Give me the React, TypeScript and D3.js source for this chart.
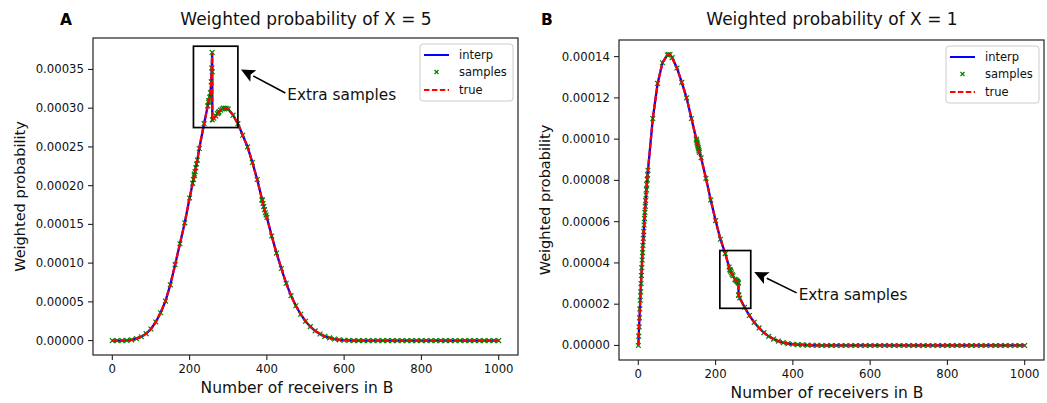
import React from 'react';
import * as d3 from 'd3';

const FONT = "'DejaVu Sans', sans-serif";

// ---------- Panel A: Weighted probability of X = 5 ----------
const xA = [0,12.5,25,37.5,50,62.5,75,87.5,100,112.5,125,137.5,150,162.5,175,187.5,200,212.5,225,237.5,250,262.5,275,287.5,300,312.5,325,337.5,350,362.5,375,387.5,400,412.5,425,437.5,450,462.5,475,487.5,500,512.5,525,537.5,550,562.5,575,587.5,600,612.5,625,637.5,650,662.5,675,687.5,700,712.5,725,737.5,750,762.5,775,787.5,800,812.5,825,837.5,850,862.5,875,887.5,900,912.5,925,937.5,950,962.5,975,987.5,1000];
const yA = [0,0,0,0.02e-5,0.1e-5,0.25e-5,0.5e-5,0.9e-5,1.5e-5,2.4e-5,3.6e-5,5.1e-5,7.2e-5,9.8e-5,12.5e-5,15.2e-5,18.4e-5,21.5e-5,24.8e-5,28.0e-5,31.0e-5,28.7e-5,29.4e-5,30.0e-5,29.9e-5,29.1e-5,28.0e-5,26.5e-5,25.0e-5,23.0e-5,20.8e-5,18.2e-5,15.9e-5,13.5e-5,11.3e-5,9.3e-5,7.4e-5,5.8e-5,4.5e-5,3.4e-5,2.5e-5,1.8e-5,1.25e-5,0.85e-5,0.55e-5,0.35e-5,0.2e-5,0.1e-5,0.05e-5,0.02e-5,0,0,0,0,0,0,0,0,0,0,0,0,0,0,0,0,0,0,0,0,0,0,0,0,0,0,0,0,0,0,0];
const xAExtra = [208,210,212,214,216,218,220,247,249,252,254,256,257.5,258.4,258.6,258.8,268,272,276,280,284,292,296,388,390,392,394,396,398];
const yAExtra = [20.3e-5,20.8e-5,21.3e-5,21.8e-5,22.3e-5,22.8e-5,23.3e-5,30.3e-5,30.8e-5,31.4e-5,32.0e-5,33.4e-5,35.2e-5,37.2e-5,34.7e-5,28.5e-5,29.0e-5,29.3e-5,29.55e-5,29.75e-5,29.9e-5,30.0e-5,29.95e-5,18.1e-5,17.7e-5,17.3e-5,16.9e-5,16.5e-5,16.2e-5];
const yTicksA = [0,0.00005,0.0001,0.00015,0.0002,0.00025,0.0003,0.00035];

// ---------- Panel B: Weighted probability of X = 1 ----------
const xB = [0,1,2,3,4,5,6,7,8,9,10,11,12,13,14,15,16,17,18,19,20,21,22,23,24,25,37.5,50,62.5,75,87.5,100,112.5,125,137.5,150,162.5,175,187.5,200,212.5,225,237.5,250,262.5,275,287.5,300,312.5,325,337.5,350,362.5,375,387.5,400,412.5,425,437.5,450,462.5,475,487.5,500,512.5,525,537.5,550,562.5,575,587.5,600,612.5,625,637.5,650,662.5,675,687.5,700,712.5,725,737.5,750,762.5,775,787.5,800,812.5,825,837.5,850,862.5,875,887.5,900,912.5,925,937.5,950,962.5,975,987.5,1000];
const yB = [0,0.45e-5,0.9e-5,1.34e-5,1.77e-5,2.19e-5,2.6e-5,3.0e-5,3.39e-5,3.77e-5,4.14e-5,4.5e-5,4.85e-5,5.19e-5,5.52e-5,5.84e-5,6.15e-5,6.45e-5,6.74e-5,7.02e-5,7.29e-5,7.55e-5,7.8e-5,8.04e-5,8.27e-5,8.49e-5,11.0e-5,12.7e-5,13.7e-5,14.08e-5,13.95e-5,13.45e-5,12.75e-5,12.0e-5,11.0e-5,10.0e-5,9.1e-5,8.1e-5,7.05e-5,6.05e-5,5.15e-5,4.45e-5,3.65e-5,3.2e-5,2.3e-5,1.85e-5,1.45e-5,1.12e-5,0.85e-5,0.62e-5,0.44e-5,0.31e-5,0.21e-5,0.14e-5,0.09e-5,0.06e-5,0.04e-5,0.025e-5,0.015e-5,0.01e-5,0.005e-5,0,0,0,0,0,0,0,0,0,0,0,0,0,0,0,0,0,0,0,0,0,0,0,0,0,0,0,0,0,0,0,0,0,0,0,0,0,0,0,0,0,0,0];
const xBExtra = [78,82,151,152,153,154,155,156,157,158,235,237,239,241,243,245,252,254,255.5,257,258,259,259.5,260];
const yBExtra = [14.1e-5,14.1e-5,9.92e-5,9.84e-5,9.76e-5,9.68e-5,9.6e-5,9.52e-5,9.44e-5,9.36e-5,3.8e-5,3.68e-5,3.6e-5,3.52e-5,3.44e-5,3.38e-5,3.18e-5,3.14e-5,3.12e-5,3.1e-5,3.07e-5,3.02e-5,2.45e-5,2.42e-5];
const yTicksB = [0,0.00002,0.00004,0.00006,0.00008,0.0001,0.00012,0.00014];

const xTicks = [0,200,400,600,800,1000];
const legendLabels = ['interp','samples','true'];

type PanelProps = {
  left: number; right: number; top: number; bottom: number;
  xs: number[]; ys: number[]; xe: number[]; ye: number[];
  yTicks: number[]; title: string; letter: string; letterX: number;
  titleX: number; xLabelX: number; yLabelX: number;
  rect: [number, number, number, number];
  tip: [number, number]; textAt: [number, number];
};

function Marker({ x, y, s = 2.4 }: { x: number; y: number; s?: number }) {
  return (
    <path d={`M${x - s},${y - s}L${x + s},${y + s}M${x - s},${y + s}L${x + s},${y - s}`} stroke="#008000" strokeWidth={1.2} fill="none" />
  );
}

function Panel(p: PanelProps) {
  const pts = p.xs.map((x, i) => ({ x, y: p.ys[i] }))
    .concat(p.xe.map((x, i) => ({ x, y: p.ye[i] })))
    .sort((a, b) => a.x - b.x);
  const ymax = d3.max(pts, d => d.y) as number;
  const xScale = d3.scaleLinear().domain([-50, 1050]).range([p.left, p.right]);
  const yScale = d3.scaleLinear().domain([-0.05 * ymax, 1.05 * ymax]).range([p.bottom, p.top]);
  const line = d3.line<{ x: number; y: number }>().x(d => xScale(d.x)).y(d => yScale(d.y));
  const path = line(pts) || '';
  const [rx0, ry0, rx1, ry1] = p.rect;
  const tipX = xScale(p.tip[0]), tipY = yScale(p.tip[1]);
  const tx = xScale(p.textAt[0]), ty = yScale(p.textAt[1]);
  const tailX = tx - 2, tailY = ty - 2;
  const dx = tipX - tailX, dy = tipY - tailY;
  const len = Math.sqrt(dx * dx + dy * dy);
  const ux = dx / len, uy = dy / len;
  const hl = 14, hw = 6.5;
  const bx = tipX - ux * hl, by = tipY - uy * hl;
  const head = `M${tipX},${tipY}L${bx - uy * hw},${by + ux * hw}L${bx + ux * 3},${by + uy * 3}L${bx + uy * hw},${by - ux * hw}Z`;
  const lgR = p.right - 5, lgL = lgR - 93, lgT = p.top + 6, lgB = lgT + 57;
  const rowY = [lgT + 11, lgT + 28, lgT + 46];
  const textCol = '#111';
  return (
    <g fontFamily={FONT}>
      <text x={p.letterX} y={25} fontSize={15.5} fontWeight="bold" fill="#000">{p.letter}</text>
      <text x={p.titleX} y={25} fontSize={17} textAnchor="middle" fill={textCol}>{p.title}</text>
      <defs>
        <clipPath id={`clip${p.letter}`}><rect x={p.left} y={p.top} width={p.right - p.left} height={p.bottom - p.top} /></clipPath>
      </defs>
      <g clipPath={`url(#clip${p.letter})`}>
        <path d={path} fill="none" stroke="#0000ff" strokeWidth={2.3} />
        {pts.map((d, i) => <Marker key={i} x={xScale(d.x)} y={yScale(d.y)} />)}
        <path d={path} fill="none" stroke="#ff0000" strokeWidth={2.3} strokeDasharray="5.5,2.4" />
      </g>
      <rect x={xScale(rx0)} y={yScale(ry1)} width={xScale(rx1) - xScale(rx0)} height={yScale(ry0) - yScale(ry1)} fill="none" stroke="#000" strokeWidth={1.7} />
      <line x1={tailX} y1={tailY} x2={bx} y2={by} stroke="#000" strokeWidth={1.6} />
      <path d={head} fill="#000" />
      <text x={tx} y={ty} fontSize={15.3} dominantBaseline="central" fill={textCol}>Extra samples</text>
      <rect x={p.left} y={p.top} width={p.right - p.left} height={p.bottom - p.top} fill="none" stroke="#222" strokeWidth={1.2} />
      {xTicks.map(t => (
        <g key={t}>
          <line x1={xScale(t)} x2={xScale(t)} y1={p.bottom} y2={p.bottom + 5} stroke="#222" strokeWidth={1.1} />
          <text x={xScale(t)} y={p.bottom + 9.5} fontSize={11.7} textAnchor="middle" dominantBaseline="hanging" fill={textCol}>{t}</text>
        </g>
      ))}
      {p.yTicks.map(t => (
        <g key={t}>
          <line x1={p.left - 5} x2={p.left} y1={yScale(t)} y2={yScale(t)} stroke="#222" strokeWidth={1.1} />
          <text x={p.left - 9} y={yScale(t)} fontSize={11.7} textAnchor="end" dominantBaseline="central" fill={textCol}>{t.toFixed(5)}</text>
        </g>
      ))}
      <text x={p.xLabelX} y={p.bottom + 38} fontSize={15.5} textAnchor="middle" fill={textCol}>Number of receivers in B</text>
      <text transform={`translate(${p.yLabelX},${(p.top + p.bottom) / 2}) rotate(-90)`} fontSize={14.5} textAnchor="middle" dominantBaseline="central" fill={textCol}>Weighted probability</text>
      <rect x={lgL} y={lgT} width={lgR - lgL} height={lgB - lgT} rx={3} fill="#fff" fillOpacity={0.8} stroke="#cccccc" strokeWidth={1} />
      <line x1={lgL + 4} x2={lgL + 29} y1={rowY[0]} y2={rowY[0]} stroke="#0000ff" strokeWidth={2} />
      <Marker x={lgL + 16.5} y={rowY[1]} s={2} />
      <line x1={lgL + 4} x2={lgL + 29} y1={rowY[2]} y2={rowY[2]} stroke="#ff0000" strokeWidth={2} strokeDasharray="5.5,2.4" />
      {legendLabels.map((l, i) => (
        <text key={l} x={lgL + 39} y={rowY[i]} fontSize={11.5} dominantBaseline="central" fill={textCol}>{l}</text>
      ))}
    </g>
  );
}

export default function App() {
  return (
    <svg width={1047} height={403} style={{ position: 'absolute', left: 0, top: 0, background: '#fff' }}>
      <rect x={0} y={0} width={1047} height={403} fill="#fff" />
      <Panel left={93} right={518} top={38} bottom={355} xs={xA} ys={yA} xe={xAExtra} ye={yAExtra}
        yTicks={yTicksA} title="Weighted probability of X = 5" letter="A" letterX={60} titleX={306}
        xLabelX={297} yLabelX={20} rect={[210, 0.000275, 325, 0.00038]} tip={[333, 0.00035]} textAt={[453, 0.000317]} />
      <Panel left={619} right={1044} top={40} bottom={360} xs={xB} ys={yB} xe={xBExtra} ye={yBExtra}
        yTicks={yTicksB} title="Weighted probability of X = 1" letter="B" letterX={541} titleX={832}
        xLabelX={827} yLabelX={545} rect={[211, 0.000018, 291, 0.000046]} tip={[300, 0.0000356]} textAt={[415, 0.0000245]} />
    </svg>
  );
}
